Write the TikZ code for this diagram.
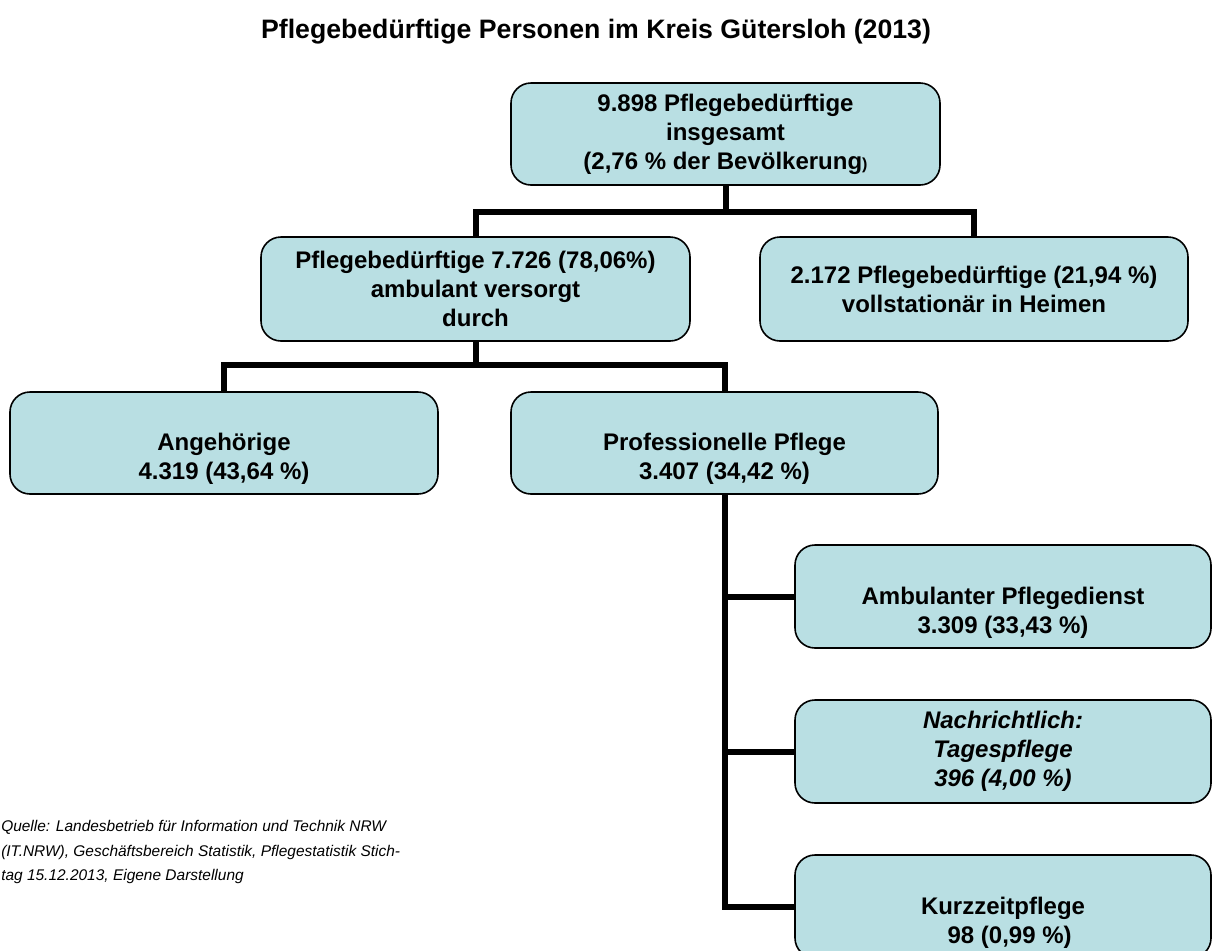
\documentclass[tikz,border=0pt]{standalone}
\usepackage{fontspec}
\setmainfont{Liberation Sans}
\definecolor{boxfill}{RGB}{185,223,227}
\newcommand\boxfont{\fontsize{18pt}{21.75pt}\selectfont\bfseries}
\newcommand\titlefont{\fontsize{20pt}{24pt}\selectfont\bfseries}
\newcommand\srcfont{\fontsize{11.6pt}{18.4pt}\selectfont\itshape}
\newcommand\smallparen{{\fontsize{12pt}{14pt}\selectfont)}}
\begin{document}
\begin{tikzpicture}[x=0.75pt,y=-0.75pt,
  box/.style={draw=black, line width=1.2pt, fill=boxfill, rounded corners=15pt,
    minimum width=321.75pt, minimum height=77pt, align=center, inner sep=0pt, font=\boxfont},
  conn/.style={line width=4.5pt, line join=miter, draw=black}]
\useasboundingbox (0,0) rectangle (1212,950);
\clip (0,0) rectangle (1212,950);

% coordinates for branching
\coordinate (j1) at (725.5,212);
\coordinate (j2) at (475.5,365);

% connectors
\draw[conn] (725.5,185) -- (j1);
\draw[conn] (475.5,237) |- (j1) -| (974,237);
\draw[conn] (475.5,341) -- (j2);
\draw[conn] (224,392) |- (j2) -| (724.5,392);
\draw[conn] (724.5,494) |- (795,906.5);
\draw[conn] (724.5,596.5) -- (795,596.5);
\draw[conn] (724.5,751.5) -- (795,751.5);

% boxes
\node[box, minimum height=76.5pt] (top) at (725.5,134)
  {9.898 Pflegebedürftige\\insgesamt\\(2,76 \% der Bevölkerung\smallparen};
\node[box, minimum height=78pt] (amb) at (475.5,289)
  {Pflegebedürftige 7.726 (78,06\%)\\ambulant versorgt\\durch};
\node[box, minimum width=321pt, minimum height=78pt] (voll) at (974,289)
  {2.172 Pflegebedürftige (21,94 \%)\\vollstationär in Heimen};
\node[box, minimum width=321pt, minimum height=76.5pt] (ang) at (224,443)
  {\strut\\Angehörige\\4.319 (43,64 \%)};
\node[box, minimum width=320.25pt, minimum height=76.5pt] (prof) at (724.5,443)
  {\strut\\Professionelle Pflege\\3.407 (34,42 \%)};
\node[box, minimum width=312pt, minimum height=77.25pt] (ambp) at (1003,596.5)
  {\strut\\Ambulanter Pflegedienst\\3.309 (33,43 \%)};
\node[box, minimum width=312pt, minimum height=77.25pt] (nach) at (1003,751.5)
  {\itshape Nachrichtlich:\\\itshape Tagespflege\\\itshape 396 (4,00 \%)};
\node[box, minimum width=312pt, minimum height=77.25pt] (kurz) at (1003,906.5)
  {\strut\\Kurzzeitpflege\\\ \ 98 (0,99 \%)};

% title
\node[font=\titlefont, inner sep=0pt] (title) at (596,32)
  {Pflegebedürftige Personen im Kreis Gütersloh (2013)};

% source
\node[anchor=north west, align=left, inner sep=0pt, font=\srcfont] (src) at (1,820)
  {Quelle: Landesbetrieb für Information und Technik NRW\\
   (IT.NRW), Geschäftsbereich Statistik, Pflegestatistik Stich-\\
   tag 15.12.2013, Eigene Darstellung};
\end{tikzpicture}
\end{document}
